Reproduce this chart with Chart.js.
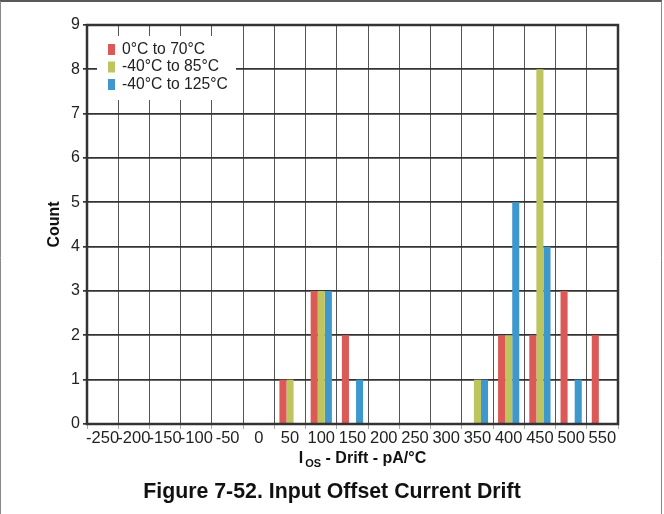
<!DOCTYPE html>
<html>
<head>
<meta charset="utf-8">
<script src="https://cdn.jsdelivr.net/npm/chart.js@4"></script>
<style>
  html, body { margin: 0; padding: 0; background: #fff; }
  #wrap { width: 664px; height: 514px; position: relative; }
</style>
</head>
<body>
<div id="wrap"><canvas id="driftChart" width="664" height="514"></canvas></div>
<script>
const bins = ["-250", "-200", "-150", "-100", "-50", "0", "50", "100", "150",
  "200", "250", "300", "350", "400", "450", "500", "550"];
const range0to70 = [0, 0, 0, 0, 0, 0, 1, 3, 2, 0, 0, 0, 0, 2, 2, 3, 2];
const rangeM40to85 = [0, 0, 0, 0, 0, 0, 1, 3, 0, 0, 0, 0, 1, 2, 8, 0, 0];
const rangeM40to125 = [0, 0, 0, 0, 0, 0, 0, 3, 1, 0, 0, 0, 1, 5, 4, 1, 0];
const seriesNames = ["0°C to 70°C", "-40°C to 85°C", "-40°C to 125°C"];
const countTicks = [0, 1, 2, 3, 4, 5, 6, 7, 8, 9];

const colors = ["#db5a57", "#bdc55e", "#3f98cd"];
const FONT = "'Liberation Sans', Arial, sans-serif";

// frame, axis titles, legend box, caption
const decor = {
  id: "decor",
  afterDatasetsDraw(chart) {
    const { ctx, chartArea: a } = chart;
    ctx.save();

    // thick plot frame
    ctx.strokeStyle = "#333";
    ctx.lineWidth = 2.5;
    ctx.strokeRect(a.left, a.top, a.right - a.left, a.bottom - a.top);

    // legend inside plot
    ctx.fillStyle = "#fff";
    ctx.fillRect(97, 36, 139, 64);
    ctx.font = "15.7px " + FONT;
    ctx.textBaseline = "middle";
    ctx.textAlign = "left";
    chart.data.datasets.forEach((ds, i) => {
      const y = 49.5 + i * 17.5;
      ctx.fillStyle = ds.backgroundColor;
      ctx.fillRect(108, y - 5.5, 7, 11);
      ctx.fillStyle = "#222";
      ctx.fillText(ds.label, 122, y);
    });

    // y title
    ctx.fillStyle = "#111";
    ctx.font = "bold 16px " + FONT;
    ctx.textAlign = "center";
    ctx.textBaseline = "middle";
    ctx.translate(55, (a.top + a.bottom) / 2);
    ctx.rotate(-Math.PI / 2);
    ctx.fillText("Count", 0, 0);
    ctx.setTransform(1, 0, 0, 1, 0, 0);

    // x title with subscript
    ctx.textAlign = "left";
    ctx.textBaseline = "alphabetic";
    const main = "bold 16px " + FONT;
    const sub = "bold 11px " + FONT;
    const rest = " - Drift - pA/°C";
    ctx.font = main;
    const wI = ctx.measureText("I").width;
    const wR = ctx.measureText(rest).width;
    ctx.font = sub;
    const wS = ctx.measureText("OS").width;
    let x = (a.left + a.right) / 2 + 10 - (wI + wS + wR + 2) / 2;
    ctx.font = main;
    ctx.fillText("I", x, 463);
    x += wI + 2;
    ctx.font = sub;
    ctx.fillText("OS", x, 467);
    x += wS;
    ctx.font = main;
    ctx.fillText(rest, x, 463);

    // caption
    ctx.font = "bold 21.3px " + FONT;
    ctx.textAlign = "center";
    ctx.fillText("Figure 7-52. Input Offset Current Drift", 332, 498);

    // page frame
    ctx.lineWidth = 1.5;
    ctx.strokeStyle = "#222";
    ctx.beginPath();
    ctx.moveTo(0, 1);
    ctx.lineTo(662, 1);
    ctx.stroke();
    ctx.lineWidth = 1;
    ctx.strokeStyle = "#888";
    ctx.beginPath();
    ctx.moveTo(0.5, 1);
    ctx.lineTo(0.5, 514);
    ctx.moveTo(661.5, 1);
    ctx.lineTo(661.5, 514);
    ctx.stroke();
    ctx.restore();
  },
};

const ctx = document.getElementById("driftChart").getContext("2d");

const driftChart = new Chart(ctx, {
  type: "bar",
  data: {
    labels: bins,
    datasets: [
      { label: seriesNames[0], data: range0to70, backgroundColor: colors[0] },
      { label: seriesNames[1], data: rangeM40to85, backgroundColor: colors[1] },
      { label: seriesNames[2], data: rangeM40to125, backgroundColor: colors[2] },
    ],
  },
  options: {
    responsive: false,
    animation: false,
    devicePixelRatio: 1,
    layout: { padding: { top: 25, right: 46, bottom: 0, left: 0 } },
    datasets: {
      bar: { categoryPercentage: 0.68, barPercentage: 1.0, borderWidth: 0 },
    },
    plugins: {
      legend: { display: false },
      tooltip: { enabled: false },
    },
    scales: {
      x: {
        afterFit: (s) => { s.height = 90; },
        grid: {
          offset: true,
          color: "#555",
          lineWidth: 1,
          tickLength: 5,
          tickColor: "#aaa",
        },
        border: { display: false },
        ticks: {
          autoSkip: false,
          maxRotation: 0,
          minRotation: 0,
          padding: 0,
          color: "#222",
          font: { family: FONT, size: 16.5 },
        },
      },
      y: {
        min: 0,
        max: 9,
        afterFit: (s) => { s.width = 87; },
        afterBuildTicks: (s) => { s.ticks = countTicks.map((v) => ({ value: v })); },
        grid: {
          color: "#333",
          lineWidth: 1.7,
          tickLength: 4,
          tickColor: "#333",
        },
        border: { display: false },
        ticks: {
          stepSize: 1,
          padding: 3,
          color: "#222",
          font: { family: FONT, size: 16 },
        },
      },
    },
  },
  plugins: [decor],
});
</script>
</body>
</html>
